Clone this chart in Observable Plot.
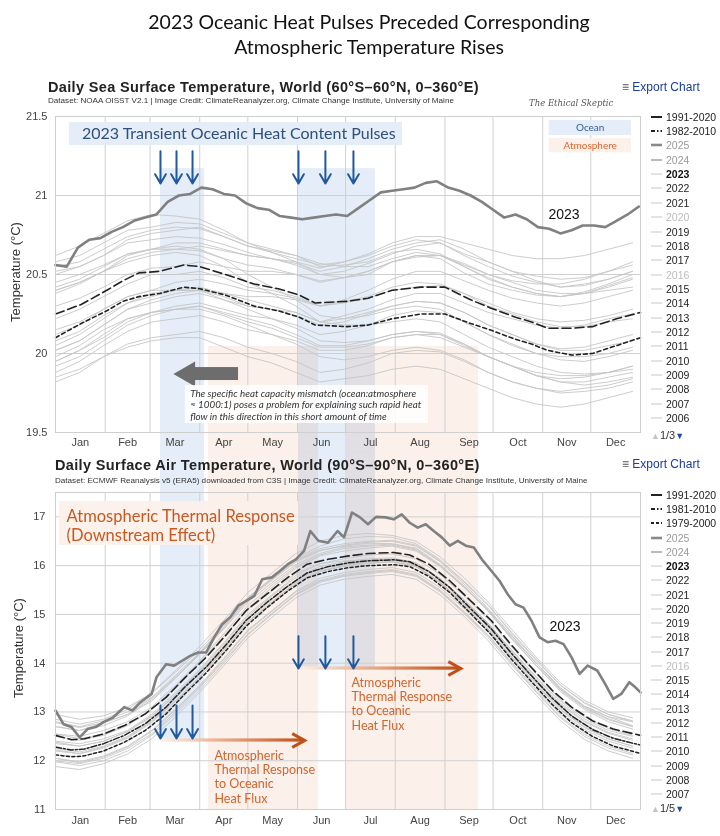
<!DOCTYPE html>
<html>
<head>
<meta charset="utf-8">
<script src="https://cdn.jsdelivr.net/npm/d3@7"></script>
<script src="https://cdn.jsdelivr.net/npm/@observablehq/plot@0.6"></script>
<style>
  html,body{margin:0;padding:0;background:#fff;}
  #page{position:relative;width:720px;height:836px;overflow:hidden;font-family:"Liberation Sans",Arial,sans-serif;color:#222;}
  .abs{position:absolute;white-space:nowrap;}
  .title{width:720px;text-align:center;font-family:Lato,"Open Sans",sans-serif;font-size:19.5px;line-height:25px;color:#111;}
  .hdr{font-weight:bold;font-size:14.5px;letter-spacing:0.35px;line-height:16px;color:#222;}
  .sub{font-family:"Liberation Sans",Arial,sans-serif;font-size:8.1px;line-height:10px;color:#333;}
  .exp{font-size:12px;line-height:14px;color:#1a3d9c;}
  .exp span{color:#555;}
  .ylab{font-size:13px;color:#333;transform:translate(-50%,-50%) rotate(-90deg);}
  .leg{font-size:10.5px;line-height:12px;display:flex;align-items:center;}
  .leg svg{margin-right:4px;}
  .wm{font-family:"DejaVu Serif",serif;font-style:italic;font-size:8.5px;color:#555;}
  .pager{font-size:11px;line-height:12px;color:#333;}
</style>
</head>
<body>
<div id="page"></div>
<script>
// ---------------- DATA ----------------
const months = ["Jan","Feb","Mar","Apr","May","Jun","Jul","Aug","Sep","Oct","Nov","Dec"];
const monthStartDays = [0,31,59,90,120,151,181,212,243,273,304,334];
const monthLengths = [31,28,31,30,31,30,31,31,30,31,30,31];
const sstTicks = [19.5,20,20.5,21,21.5];
const airTicks = [11,12,13,14,15,16,17];

// common half-monthly grid (day of year) for the individual-year spaghetti lines
const gridDays = [0,15,30,45,60,75,90,105,120,135,150,165,180,195,210,225,240,255,270,285,300,315,330,345,360];

// --- Sea surface temperature ---
const sst2023Days = [0,7,14,21,28,35,42,49,56,63,70,77,84,91,98,105,112,119,126,133,140,147,154,161,168,175,182,189,196,203,210,217,224,231,238,245,252,259,266,273,280,287,294,301,308,315,322,329,336,343,350,357,364];
const sst2023 = [20.56,20.55,20.67,20.72,20.73,20.77,20.80,20.84,20.86,20.88,20.96,21.00,21.01,21.05,21.04,21.01,21.00,20.95,20.92,20.91,20.87,20.86,20.85,20.86,20.87,20.88,20.87,20.92,20.97,21.02,21.03,21.04,21.05,21.08,21.09,21.05,21.03,21.00,20.96,20.91,20.86,20.88,20.85,20.80,20.79,20.76,20.78,20.81,20.81,20.80,20.84,20.88,20.93];
const sstMeanDays = [0,16,32,42,52,65,80,90,106,124,139,152,162,182,195,210,228,243,259,271,287,297,307,322,335,350,365];
const sst1991_2020 = [20.25,20.31,20.40,20.46,20.51,20.52,20.56,20.55,20.50,20.44,20.41,20.37,20.32,20.33,20.35,20.40,20.42,20.42,20.34,20.29,20.23,20.20,20.16,20.16,20.17,20.22,20.26];
const sst1982_2010 = [20.10,20.19,20.27,20.33,20.36,20.38,20.42,20.41,20.37,20.30,20.27,20.23,20.18,20.17,20.18,20.22,20.25,20.25,20.19,20.15,20.09,20.06,20.02,19.99,20.00,20.05,20.10];
const sst2022 = [20.52,20.55,20.62,20.70,20.72,20.74,20.73,20.69,20.64,20.60,20.57,20.52,20.55,20.60,20.66,20.70,20.72,20.66,20.58,20.52,20.49,20.47,20.48,20.52,20.58];
const sst2021 = [20.45,20.50,20.56,20.63,20.66,20.70,20.70,20.66,20.62,20.60,20.56,20.50,20.52,20.57,20.63,20.68,20.70,20.62,20.55,20.49,20.45,20.42,20.43,20.47,20.52];
const sst2020 = [20.58,20.62,20.70,20.78,20.80,20.83,20.82,20.76,20.70,20.66,20.62,20.55,20.56,20.58,20.64,20.66,20.63,20.55,20.47,20.42,20.38,20.36,20.38,20.43,20.48];
const sst2019 = [20.50,20.55,20.62,20.72,20.76,20.78,20.80,20.74,20.68,20.64,20.60,20.56,20.58,20.62,20.68,20.72,20.70,20.63,20.58,20.52,20.46,20.42,20.44,20.47,20.52];
const sst2018 = [20.42,20.47,20.55,20.63,20.66,20.66,20.65,20.60,20.56,20.54,20.50,20.46,20.48,20.52,20.58,20.61,20.62,20.56,20.50,20.46,20.44,20.44,20.47,20.52,20.56];
const sst2017 = [20.55,20.58,20.66,20.74,20.78,20.80,20.79,20.74,20.68,20.65,20.62,20.57,20.55,20.55,20.60,20.64,20.62,20.55,20.48,20.42,20.38,20.36,20.38,20.42,20.47];
const sst2016 = [20.62,20.68,20.76,20.84,20.88,20.87,20.85,20.78,20.70,20.64,20.58,20.50,20.48,20.50,20.58,20.62,20.60,20.51,20.44,20.40,20.37,20.36,20.39,20.44,20.50];
const sst2015 = [20.38,20.44,20.52,20.60,20.64,20.66,20.68,20.65,20.62,20.60,20.58,20.54,20.58,20.63,20.70,20.74,20.74,20.70,20.66,20.62,20.60,20.60,20.62,20.66,20.70];
const sst2014 = [20.30,20.35,20.42,20.50,20.54,20.55,20.58,20.55,20.52,20.52,20.50,20.45,20.48,20.52,20.58,20.62,20.62,20.57,20.50,20.45,20.40,20.38,20.38,20.40,20.42];
const sst2013 = [20.22,20.28,20.36,20.44,20.50,20.50,20.52,20.48,20.42,20.40,20.36,20.30,20.32,20.35,20.40,20.42,20.43,20.38,20.32,20.26,20.22,20.20,20.21,20.24,20.28];
const sst2012 = [20.12,20.18,20.28,20.36,20.40,20.45,20.47,20.44,20.40,20.38,20.35,20.30,20.33,20.36,20.42,20.45,20.44,20.38,20.30,20.25,20.20,20.17,20.17,20.20,20.22];
const sst2011 = [20.05,20.12,20.22,20.32,20.36,20.40,20.40,20.36,20.30,20.28,20.24,20.18,20.20,20.25,20.30,20.33,20.32,20.26,20.18,20.12,20.06,20.02,20.02,20.05,20.08];
const sst2010 = [20.40,20.45,20.52,20.62,20.66,20.68,20.66,20.60,20.50,20.42,20.34,20.24,20.22,20.24,20.28,20.30,20.28,20.20,20.12,20.05,20.00,19.98,19.98,20.00,20.04];
const sst2009 = [20.02,20.08,20.18,20.28,20.34,20.38,20.40,20.38,20.36,20.36,20.34,20.30,20.34,20.40,20.47,20.52,20.52,20.46,20.40,20.35,20.32,20.30,20.32,20.36,20.40];
const sst2008 = [19.95,20.02,20.10,20.20,20.26,20.30,20.32,20.28,20.24,20.22,20.18,20.12,20.14,20.18,20.24,20.27,20.26,20.20,20.12,20.06,20.00,19.96,19.95,19.98,20.02];
const sst2007 = [20.15,20.20,20.28,20.36,20.40,20.40,20.40,20.34,20.28,20.22,20.16,20.08,20.07,20.08,20.12,20.14,20.12,20.05,19.98,19.92,19.86,19.84,19.85,19.88,19.92];
const sst2006 = [20.02,20.08,20.18,20.28,20.32,20.36,20.38,20.34,20.30,20.28,20.26,20.20,20.24,20.28,20.34,20.38,20.38,20.32,20.26,20.22,20.18,20.16,20.18,20.22,20.25];
const sst2005 = [20.08,20.14,20.24,20.32,20.38,20.40,20.42,20.38,20.34,20.30,20.26,20.20,20.22,20.26,20.30,20.33,20.32,20.26,20.18,20.12,20.06,20.03,20.04,20.08,20.12];
const sst2000 = [19.92,19.98,20.08,20.18,20.24,20.28,20.30,20.26,20.22,20.18,20.12,20.05,20.05,20.08,20.12,20.14,20.13,20.06,19.98,19.92,19.86,19.82,19.82,19.85,19.88];
const sst1998 = [20.40,20.45,20.52,20.58,20.62,20.64,20.62,20.55,20.45,20.38,20.30,20.20,20.18,20.18,20.20,20.22,20.20,20.12,20.04,19.98,19.92,19.88,19.87,19.88,19.90];
const sst1995 = [19.95,20.02,20.12,20.22,20.26,20.28,20.30,20.25,20.20,20.16,20.10,20.04,20.04,20.06,20.10,20.12,20.10,20.04,19.98,19.92,19.88,19.86,19.86,19.88,19.92];
const sst1990 = [19.88,19.95,20.05,20.14,20.20,20.22,20.24,20.20,20.15,20.12,20.08,20.02,20.02,20.05,20.10,20.12,20.12,20.06,19.98,19.92,19.86,19.82,19.80,19.82,19.85];
const sst1988 = [19.98,20.05,20.15,20.22,20.26,20.28,20.28,20.24,20.18,20.12,20.06,19.98,19.96,19.98,20.02,20.04,20.02,19.96,19.88,19.82,19.78,19.76,19.78,19.80,19.84];
const sst1985 = [19.82,19.88,19.98,20.06,20.10,20.12,20.14,20.10,20.04,20.00,19.95,19.88,19.90,19.94,20.00,20.02,20.01,19.95,19.88,19.82,19.78,19.75,19.76,19.78,19.82];
const sst1984 = [19.85,19.90,19.98,20.04,20.08,20.10,20.10,20.04,19.98,19.94,19.88,19.82,19.84,19.86,19.90,19.92,19.90,19.84,19.78,19.72,19.68,19.66,19.68,19.72,19.76];

// --- Surface air temperature ---
const air2023Days = [0,5,10,15,20,25,30,36,43,48,53,60,63,69,74,79,84,89,94,99,104,109,114,119,124,129,135,140,145,150,155,159,164,170,176,180,185,190,195,200,206,211,216,221,226,231,236,241,246,251,256,261,266,272,277,282,287,292,297,302,307,312,317,322,327,332,338,343,348,353,358,362,365];
const air2023 = [13.03,12.75,12.69,12.48,12.65,12.69,12.79,12.89,13.10,13.03,13.20,13.37,13.71,13.98,13.95,14.05,14.15,14.22,14.22,14.53,14.80,14.94,15.18,15.28,15.38,15.72,15.76,15.89,16.03,16.13,16.30,16.71,16.51,16.47,16.71,16.58,17.09,16.99,16.85,17.00,16.99,16.95,17.05,16.88,16.78,16.85,16.71,16.58,16.41,16.51,16.41,16.37,16.13,15.89,15.69,15.42,15.21,15.14,14.87,14.53,14.43,14.46,14.39,14.12,13.78,13.95,13.85,13.57,13.27,13.37,13.61,13.50,13.40];
const airMeanDays = [0,10,18,30,43,56,69,81,94,107,119,132,145,157,170,183,195,211,221,233,246,259,272,284,297,310,322,335,348,365];
const air1991_2020 = [12.52,12.43,12.45,12.55,12.72,12.96,13.30,13.71,14.12,14.60,15.08,15.42,15.76,16.03,16.13,16.20,16.25,16.27,16.22,16.03,15.69,15.28,14.87,14.39,13.91,13.44,13.10,12.82,12.65,12.52];
const air1981_2010 = [12.28,12.22,12.24,12.35,12.52,12.76,13.10,13.52,13.92,14.40,14.88,15.25,15.58,15.85,15.98,16.06,16.10,16.12,16.08,15.88,15.55,15.12,14.70,14.22,13.74,13.28,12.92,12.64,12.46,12.32];
const air1979_2000 = [12.12,12.08,12.10,12.20,12.38,12.62,12.96,13.38,13.80,14.28,14.76,15.14,15.48,15.75,15.88,15.96,16.00,16.02,15.98,15.78,15.45,15.02,14.58,14.10,13.62,13.15,12.78,12.50,12.30,12.15];
const air2022 = [12.80,12.70,12.82,13.00,13.30,13.75,14.22,14.78,15.35,15.74,16.12,16.35,16.45,16.50,16.52,16.42,16.10,15.66,15.18,14.60,14.05,13.55,13.18,12.95,12.80];
const air2021 = [12.70,12.62,12.78,12.95,13.22,13.70,14.20,14.72,15.30,15.70,16.08,16.30,16.42,16.48,16.50,16.40,16.08,15.62,15.12,14.55,14.00,13.48,13.12,12.90,12.72];
const air2020 = [12.95,12.85,12.92,13.10,13.38,13.82,14.28,14.80,15.34,15.72,16.10,16.32,16.40,16.46,16.45,16.36,16.02,15.58,15.10,14.56,14.00,13.46,13.10,12.86,12.70];
const air2019 = [12.70,12.62,12.72,12.92,13.25,13.70,14.20,14.75,15.32,15.75,16.15,16.40,16.55,16.60,16.58,16.45,16.12,15.68,15.20,14.62,14.08,13.55,13.20,12.95,12.82];
const air2018 = [12.55,12.50,12.62,12.80,13.10,13.55,14.05,14.60,15.18,15.60,15.98,16.22,16.35,16.40,16.42,16.32,16.00,15.56,15.08,14.50,13.95,13.42,13.05,12.80,12.65];
const air2017 = [12.78,12.68,12.78,12.95,13.28,13.72,14.18,14.70,15.25,15.65,16.02,16.25,16.38,16.42,16.44,16.34,16.00,15.56,15.06,14.48,13.95,13.45,13.08,12.84,12.70];
const air2016 = [12.85,12.75,12.85,13.05,13.40,13.85,14.35,14.88,15.45,15.85,16.25,16.50,16.62,16.66,16.62,16.50,16.18,15.75,15.25,14.68,14.12,13.60,13.24,13.00,12.88];
const air2015 = [12.55,12.45,12.55,12.75,13.05,13.50,14.00,14.55,15.12,15.55,15.95,16.20,16.30,16.36,16.40,16.30,15.98,15.55,15.08,14.52,14.00,13.50,13.12,12.90,12.80];
const air2014 = [12.40,12.35,12.45,12.62,12.95,13.40,13.88,14.42,15.00,15.40,15.80,16.04,16.14,16.22,16.24,16.14,15.82,15.38,14.90,14.32,13.78,13.25,12.90,12.66,12.52];
const air2013 = [12.35,12.30,12.40,12.60,12.92,13.36,13.85,14.40,14.96,15.38,15.76,15.98,16.08,16.14,16.16,16.06,15.74,15.30,14.82,14.25,13.70,13.18,12.82,12.58,12.45];
const air2012 = [12.25,12.18,12.30,12.50,12.82,13.28,13.78,14.32,14.90,15.30,15.70,15.94,16.04,16.10,16.14,16.04,15.72,15.28,14.80,14.22,13.66,13.15,12.80,12.56,12.42];
const air2011 = [12.22,12.15,12.28,12.48,12.80,13.24,13.72,14.28,14.86,15.26,15.66,15.90,16.00,16.06,16.08,15.98,15.66,15.22,14.74,14.16,13.62,13.10,12.74,12.50,12.36];
const air2010 = [12.50,12.42,12.52,12.72,13.05,13.52,14.02,14.55,15.10,15.48,15.84,16.04,16.10,16.12,16.12,16.00,15.66,15.20,14.70,14.12,13.58,13.06,12.70,12.45,12.30];
const air2009 = [12.12,12.08,12.20,12.40,12.72,13.18,13.68,14.22,14.80,15.22,15.62,15.88,16.00,16.08,16.12,16.02,15.72,15.30,14.82,14.26,13.72,13.22,12.86,12.62,12.50];
const air2008 = [12.05,11.98,12.10,12.30,12.62,13.06,13.55,14.10,14.68,15.08,15.48,15.74,15.86,15.92,15.96,15.86,15.55,15.12,14.64,14.06,13.52,13.00,12.64,12.40,12.26];
const air2007 = [12.38,12.30,12.40,12.60,12.90,13.35,13.82,14.36,14.92,15.32,15.70,15.94,16.02,16.06,16.08,15.98,15.64,15.18,14.68,14.10,13.55,13.04,12.68,12.44,12.30];
const air2005 = [12.20,12.14,12.26,12.46,12.78,13.22,13.72,14.26,14.84,15.24,15.64,15.88,15.98,16.04,16.08,15.98,15.66,15.22,14.74,14.18,13.62,13.10,12.74,12.50,12.36];
const air2000 = [12.00,11.94,12.05,12.25,12.55,13.00,13.50,14.04,14.60,15.02,15.42,15.68,15.80,15.86,15.90,15.80,15.48,15.04,14.56,13.98,13.42,12.90,12.54,12.30,12.15];
const air1995 = [12.05,11.96,12.08,12.28,12.60,13.04,13.52,14.08,14.66,15.06,15.46,15.70,15.82,15.88,15.92,15.82,15.50,15.06,14.58,14.00,13.46,12.95,12.58,12.34,12.20];
const air1990 = [11.98,11.90,12.00,12.20,12.52,12.96,13.45,14.00,14.58,15.00,15.40,15.66,15.78,15.84,15.88,15.78,15.46,15.02,14.52,13.95,13.40,12.88,12.50,12.26,12.12];
const air1985 = [11.88,11.82,11.94,12.14,12.45,12.90,13.40,13.95,14.52,14.94,15.34,15.60,15.72,15.78,15.82,15.72,15.40,14.96,14.46,13.88,13.34,12.82,12.44,12.20,12.05];

// legend labels
const topLegendLabels = ["1991-2020","1982-2010","2025","2024","2023","2022","2021","2020","2019","2018","2017","2016","2015","2014","2013","2012","2011","2010","2009","2008","2007","2006"];
const bottomLegendLabels = ["1991-2020","1981-2010","1979-2000","2025","2024","2023","2022","2021","2020","2019","2018","2017","2016","2015","2014","2013","2012","2011","2010","2009","2008","2007"];

// ---------------- HELPERS ----------------
const T0 = Date.UTC(2023,0,1), DAY = 864e5;
const doy = d => new Date(T0 + d*DAY);
const rows = (name, days, vals) => vals.map((v,i) => ({series:name, date:doy(days[i]), value:v}));
const monthStarts = monthStartDays.map(doy);
const monthMids = monthStartDays.map((d,i) => doy(d + monthLengths[i]/2));

const sstOthers = [["2022",sst2022],["2021",sst2021],["2020",sst2020],["2019",sst2019],["2018",sst2018],["2017",sst2017],["2016",sst2016],["2015",sst2015],["2014",sst2014],["2013",sst2013],["2012",sst2012],["2011",sst2011],["2010",sst2010],["2009",sst2009],["2008",sst2008],["2007",sst2007],["2006",sst2006],["2005",sst2005],["2000",sst2000],["1998",sst1998],["1995",sst1995],["1990",sst1990],["1988",sst1988],["1985",sst1985],["1984",sst1984]];
const airOthers = [["2022",air2022],["2021",air2021],["2020",air2020],["2019",air2019],["2018",air2018],["2017",air2017],["2016",air2016],["2015",air2015],["2014",air2014],["2013",air2013],["2012",air2012],["2011",air2011],["2010",air2010],["2009",air2009],["2008",air2008],["2007",air2007],["2005",air2005],["2000",air2000],["1995",air1995],["1990",air1990],["1985",air1985]];
const sstSpag = sstOthers.flatMap(([n,v]) => rows(n, gridDays, v));
const airSpag = airOthers.flatMap(([n,v]) => rows(n, gridDays, v));

const BLUE = "#e4edf8", PEACH = "#fcf0ea", ARROWBLUE = "#22599c", ORANGE = "#c9581f";
const annoFont = "Lato, 'Open Sans', sans-serif";
const baseStyle = {background:"transparent", fontFamily:"'Liberation Sans', Arial, sans-serif", fontSize:"11px", color:"#444", overflow:"visible"};
// open chevron arrowhead symbol (tip at the anchor point)
const chevron = {draw(ctx, size) { const r = Math.sqrt(size / Math.PI); ctx.moveTo(-r, -0.55*r); ctx.lineTo(0, 0); ctx.lineTo(-r, 0.55*r); }};

// ---------------- TOP PLOT ----------------
const topPlot = Plot.plot({
  width: 720, height: 392, marginTop: 56, marginBottom: 20, marginLeft: 55, marginRight: 80,
  style: baseStyle,
  x: {type: "utc", domain: [doy(0), doy(365)]},
  y: {domain: [19.5, 21.5]},
  marks: [
    // overlay stripes
    Plot.rect([{a:65.5,b:93},{a:151.6,b:199.6}], {x1: d=>doy(d.a), x2: d=>doy(d.b), y1: 21.17, y2: 19.373, fill: BLUE, mixBlendMode: "multiply"}),
    Plot.rect([{a:95.4,b:164.1},{a:180.9,b:263.9}], {x1: d=>doy(d.a), x2: d=>doy(d.b), y1: 20.044, y2: 19.373, fill: PEACH, mixBlendMode: "multiply"}),
    Plot.gridY(sstTicks, {stroke: "#d0d0d0", strokeOpacity: 1}),
    Plot.gridX(monthStarts, {stroke: "#d0d0d0", strokeOpacity: 1}),
    Plot.line(sstSpag, {x: "date", y: "value", z: "series", stroke: "#c6c6c6", strokeWidth: 0.9}),
    Plot.line(rows("1991-2020", sstMeanDays, sst1991_2020), {x: "date", y: "value", stroke: "#222", strokeWidth: 1.6, strokeDasharray: "9,4"}),
    Plot.line(rows("1982-2010", sstMeanDays, sst1982_2010), {x: "date", y: "value", stroke: "#222", strokeWidth: 1.6, strokeDasharray: "4,3"}),
    Plot.line(rows("2023", sst2023Days, sst2023), {x: "date", y: "value", stroke: "#808080", strokeWidth: 2.6}),
    Plot.frame({stroke: "#cfcfcf"}),
    // title box
    Plot.rect([0], {x1: doy(8.7), x2: doy(216.5), y1: 21.316, y2: 21.462, fill: BLUE}),
    Plot.text([0], {x: doy(16.5), y: 21.389, text: ["2023 Transient Oceanic Heat Content Pulses"], textAnchor: "start", fontSize: 16, fill: "#2f4f7c", fontFamily: annoFont}),
    // ocean / atmosphere key
    Plot.rect([0], {x1: doy(308), x2: doy(359.3), y1: 21.38, y2: 21.475, fill: BLUE}),
    Plot.text([0], {x: doy(333.6), y: 21.428, text: ["Ocean"], fontSize: 10, fill: "#2f5f9e", fontFamily: annoFont}),
    Plot.rect([0], {x1: doy(308), x2: doy(359.3), y1: 21.27, y2: 21.36, fill: PEACH}),
    Plot.text([0], {x: doy(333.6), y: 21.315, text: ["Atmosphere"], fontSize: 10, fill: "#e0662c", fontFamily: annoFont}),
    // blue down arrows
    Plot.arrow([65.5,75.5,85.5,151.6,168.4,185.9], {x1: d=>doy(d), x2: d=>doy(d), y1: 21.28, y2: 21.076, stroke: ARROWBLUE, strokeWidth: 2, headLength: 10, headAngle: 60}),
    // grey block arrow pointing left
    Plot.rect([0], {x1: doy(85), x2: doy(114.2), y1: 19.829, y2: 19.911, fill: "#6d6d6d"}),
    Plot.dot([0], {x: doy(82.6), y: 19.87, symbol: "triangle", r: 9.3, rotate: -90, fill: "#6d6d6d", stroke: "none"}),
    // annotation box
    Plot.rect([0], {x1: doy(81), x2: doy(232.7), y1: 19.557, y2: 19.797, fill: "white", fillOpacity: 0.85}),
    Plot.text([0], {x: doy(84), y: 19.78, text: ["The specific heat capacity mismatch (ocean:atmosphere\n≈ 1000:1) poses a problem for explaining such rapid heat\nflow in this direction in this short amount of time"], textAnchor: "start", lineAnchor: "top", fontSize: 9.8, lineHeight: 1.2, fontStyle: "italic", fill: "#333", fontFamily: annoFont}),
    // 2023 label
    Plot.text([0], {x: doy(307.6), y: 20.88, text: ["2023"], textAnchor: "start", fontSize: 14, fill: "#111"}),
    Plot.axisX({ticks: monthMids, tickSize: 0, tickPadding: 6, tickFormat: d => months[d.getUTCMonth()], label: null, fontSize: 11, fill: "#444"}),
    Plot.axisY({ticks: sstTicks, tickSize: 0, tickPadding: 8, tickFormat: d => String(d), label: null, fontSize: 11, fill: "#444"})
  ]
});

// ---------------- BOTTOM PLOT ----------------
const bottomPlot = Plot.plot({
  width: 720, height: 384, marginTop: 40, marginBottom: 27, marginLeft: 55, marginRight: 80,
  style: baseStyle,
  x: {type: "utc", domain: [doy(0), doy(365)]},
  y: {domain: [11, 17.5]},
  marks: [
    // overlay stripes
    Plot.rect([{a:65.5,b:93,lo:12.415},{a:151.6,b:199.6,lo:13.89}], {x1: d=>doy(d.a), x2: d=>doy(d.b), y1: 18.32, y2: "lo", fill: BLUE, mixBlendMode: "multiply"}),
    Plot.rect([{a:95.4,b:164.1},{a:180.9,b:263.9}], {x1: d=>doy(d.a), x2: d=>doy(d.b), y1: 18.32, y2: 11, fill: PEACH, mixBlendMode: "multiply"}),
    Plot.gridY(airTicks, {stroke: "#d0d0d0", strokeOpacity: 1}),
    Plot.gridX(monthStarts, {stroke: "#d0d0d0", strokeOpacity: 1}),
    Plot.line(airSpag, {x: "date", y: "value", z: "series", stroke: "#c6c6c6", strokeWidth: 0.9}),
    Plot.line(rows("1991-2020", airMeanDays, air1991_2020), {x: "date", y: "value", stroke: "#222", strokeWidth: 1.6, strokeDasharray: "9,4"}),
    Plot.line(rows("1981-2010", airMeanDays, air1981_2010), {x: "date", y: "value", stroke: "#222", strokeWidth: 1.5, strokeDasharray: "6,2,2,2"}),
    Plot.line(rows("1979-2000", airMeanDays, air1979_2000), {x: "date", y: "value", stroke: "#222", strokeWidth: 1.5, strokeDasharray: "3,2.5"}),
    Plot.line(rows("2023", air2023Days, air2023), {x: "date", y: "value", stroke: "#808080", strokeWidth: 2.6}),
    Plot.frame({stroke: "#cfcfcf"}),
    // big heading box
    Plot.rect([0], {x1: doy(2.5), x2: doy(151.6), y1: 16.413, y2: 17.315, fill: PEACH, fillOpacity: 0.95}),
    Plot.text(["Atmospheric Thermal Response","(Downstream Effect)"], {x: doy(6.9), y: (d,i) => [17.01, 16.62][i], text: d => d, textAnchor: "start", fontSize: 16.5, fill: ORANGE, fontFamily: annoFont}),
    // orange gradient arrows (shaft + chevron head)
    Plot.rect([{a:65.5,b:154.6,v:12.415},{a:151.6,b:252,v:13.89}], {x1: d=>doy(d.a), x2: d=>doy(d.b), y1: d=>d.v-0.033, y2: d=>d.v+0.033, fill: "url(#orangeGrad)"}),
    Plot.dot([{b:155.5,v:12.415},{b:252.9,v:13.89}], {x: d=>doy(d.b), y: "v", symbol: chevron, r: 12.5, fill: "none", stroke: "#c0501a", strokeWidth: 3, strokeLinejoin: "miter"}),
    // blue down arrows
    Plot.arrow([65.5,75.5,85.5], {x1: d=>doy(d), x2: d=>doy(d), y1: 13.13, y2: 12.456, stroke: ARROWBLUE, strokeWidth: 2, headLength: 10, headAngle: 60}),
    Plot.arrow([151.6,168.4,185.9], {x1: d=>doy(d), x2: d=>doy(d), y1: 14.55, y2: 13.89, stroke: ARROWBLUE, strokeWidth: 2, headLength: 10, headAngle: 60}),
    Plot.text([{a:99.2,v:12.23},{a:184.7,v:13.73}], {x: d=>doy(d.a), y: "v", text: d => "Atmospheric\nThermal Response\nto Oceanic\nHeat Flux", textAnchor: "start", lineAnchor: "top", fontSize: 12.5, lineHeight: 1.15, fill: "#d2642c", fontFamily: annoFont}),
    Plot.text([0], {x: doy(308.2), y: 14.75, text: ["2023"], textAnchor: "start", fontSize: 14, fill: "#111"}),
    Plot.axisX({ticks: monthMids, tickSize: 0, tickPadding: 7, tickFormat: d => months[d.getUTCMonth()], label: null, fontSize: 11, fill: "#444"}),
    Plot.axisY({ticks: airTicks, tickSize: 0, tickPadding: 10, tickFormat: d => String(d), label: null, fontSize: 11, fill: "#444"})
  ]
});
bottomPlot.insertAdjacentHTML("afterbegin", '<defs><linearGradient id="orangeGrad" x1="0" x2="1" y1="0" y2="0"><stop offset="0" stop-color="#fdf1ea"/><stop offset="0.5" stop-color="#e6a27c"/><stop offset="1" stop-color="#c0501a"/></linearGradient></defs>');

// ---------------- PAGE ASSEMBLY ----------------
const page = document.getElementById("page");
function place(el, left, top) { const w = document.createElement("div"); w.className = "abs"; w.style.left = left+"px"; w.style.top = top+"px"; w.appendChild(el); page.appendChild(w); return w; }
function html(cls, left, top, content) { const d = document.createElement("div"); d.className = "abs " + cls; d.style.left = left+"px"; d.style.top = top+"px"; d.innerHTML = content; page.appendChild(d); return d; }

place(topPlot, 0, 60);
place(bottomPlot, 0, 452);

html("title", 9, 9, "2023 Oceanic Heat Pulses Preceded Corresponding<br>Atmospheric Temperature Rises");
html("hdr", 48, 79, "Daily Sea Surface Temperature, World (60°S–60°N, 0–360°E)");
html("sub", 48, 96, "Dataset: NOAA OISST V2.1 | Image Credit: ClimateReanalyzer.org, Climate Change Institute, University of Maine");
html("wm", 529, 98, "The Ethical Skeptic");
html("exp", 622, 80, "<span>&#8801;</span> Export Chart");
html("hdr", 55, 457, "Daily Surface Air Temperature, World (90°S–90°N, 0–360°E)");
html("sub", 55, 476, "Dataset: ECMWF Reanalysis v5 (ERA5) downloaded from C3S | Image Credit: ClimateReanalyzer.org, Climate Change Institute, University of Maine");
html("exp", 622, 457, "<span>&#8801;</span> Export Chart");
html("ylab", 15, 272, "Temperature (°C)");
html("ylab", 18, 648, "Temperature (°C)");

function swatch(label, dim) {
  let stroke = "#dadada", w = 1.5, dash = "";
  if (label === "1991-2020") { stroke = "#222"; w = 2; }
  else if (label === "1982-2010" || label === "1981-2010") { stroke = "#222"; w = 2; dash = "4,2,1.5,2"; }
  else if (label === "1979-2000") { stroke = "#222"; w = 2; dash = "3,2"; }
  else if (label === "2025") { stroke = "#8a8a8a"; w = 2.6; }
  else if (label === "2024") { stroke = "#a8a8a8"; w = 1.6; }
  let color = "#222", weight = "normal";
  if (label === "2025" || label === "2024") color = "#9a9a9a";
  if (dim.includes(label)) color = "#bdbdbd";
  if (label === "2023") { weight = "bold"; color = "#111"; }
  return `<svg width="11" height="6"><line x1="0" x2="11" y1="3" y2="3" stroke="${stroke}" stroke-width="${w}" stroke-dasharray="${dash}"/></svg><span style="color:${color};font-weight:${weight}">${label}</span>`;
}
topLegendLabels.forEach((l, i) => html("leg", 651, 110.7 + i*14.35, swatch(l, ["2020","2016"])));
html("pager", 651, 429, '<span style="color:#c4c4c4;font-size:9px">&#9650;</span>1/3<span style="color:#1f4e9c;font-size:9px">&#9660;</span>');
bottomLegendLabels.forEach((l, i) => html("leg", 651, 489 + i*14.24, swatch(l, ["2016"])));
html("pager", 651, 802, '<span style="color:#c4c4c4;font-size:9px">&#9650;</span>1/5<span style="color:#1f4e9c;font-size:9px">&#9660;</span>');
</script>
</body>
</html>
